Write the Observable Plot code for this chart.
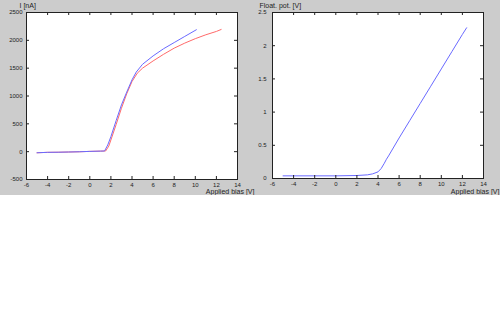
<!DOCTYPE html>
<html>
<head>
<meta charset="utf-8">
<script src="https://cdn.jsdelivr.net/npm/d3@7"></script>
<script src="https://cdn.jsdelivr.net/npm/@observablehq/plot@0.6"></script>
<style>
  body { margin: 0; background: white; }
  #fig { position: relative; width: 500px; height: 195px; background: #cccccc; }
  #fig svg { position: absolute; top: 0; overflow: visible; }
</style>
</head>
<body>
<div id="fig"></div>
<script>
// Tick values
const xTicks = [-6, -4, -2, 0, 2, 4, 6, 8, 10, 12, 14];
const leftYTicks = [-500, 0, 500, 1000, 1500, 2000, 2500];
const rightYTicks = [0, 0.5, 1, 1.5, 2, 2.5];

// Left panel: current vs applied bias (two series)
const blueBias = [-5, -4, -3, -2, -1, 0, 1, 1.4, 1.7, 2, 2.5, 3, 3.5, 4, 4.4, 5, 6, 7, 8, 9, 10.1];
const blueCurrent = [-20, -12, -10, -6, -2, 5, 10, 12, 120, 270, 560, 840, 1070, 1290, 1430, 1570, 1720, 1850, 1960, 2070, 2190];
const redBias = [-5, -4, -3, -2, -1, 0, 1, 1.5, 1.8, 2, 2.5, 3, 3.5, 4, 4.5, 5, 6, 7, 8, 9, 10, 11, 12, 12.45];
const redCurrent = [-20, -12, -10, -6, -2, 5, 10, 12, 100, 210, 490, 780, 1040, 1260, 1410, 1500, 1630, 1750, 1860, 1950, 2030, 2100, 2160, 2195];

// Right panel: floating potential vs applied bias
const floatBias = [-5, -2, 0, 2, 3, 3.5, 4, 4.3, 4.6, 4.8, 5, 6, 7, 8, 9, 10, 11, 12, 12.4];
const floatPot = [0.04, 0.04, 0.04, 0.045, 0.055, 0.07, 0.1, 0.15, 0.23, 0.29, 0.34, 0.61, 0.87, 1.13, 1.39, 1.65, 1.91, 2.17, 2.27];

const FONT = "'Liberation Sans', Arial, sans-serif";
const INK = "#222";
const fmt = d => String(d);

function panel({width, height, ml, mr, mt, mb, ydomain, yticks, ypad, series, ylabel, ylabelDx, xlabelDx, xlabelDy}) {
  const plotW = width - ml - mr;
  const plotH = height - mt - mb;
  const lines = series.map(s =>
    Plot.line(s.x.map((x, i) => ({x, y: s.y[i]})), {x: "x", y: "y", stroke: s.color, strokeWidth: 1})
  );
  const svg = Plot.plot({
    width, height,
    marginLeft: ml, marginRight: mr, marginTop: mt, marginBottom: mb,
    x: {domain: [-6, 14]},
    y: {domain: ydomain},
    style: {background: "transparent", fontSize: "6px", fontFamily: FONT, color: INK},
    marks: [
      Plot.frame({fill: "white"}),
      ...lines,
      Plot.frame({stroke: INK}),
      Plot.tickX(xTicks, {x: d => d, insetTop: plotH - 3, stroke: INK}),
      Plot.tickX(xTicks, {x: d => d, insetBottom: plotH - 3, stroke: INK}),
      Plot.tickY(yticks, {y: d => d, insetRight: plotW - 3, stroke: INK}),
      Plot.tickY(yticks, {y: d => d, insetLeft: plotW - 3, stroke: INK}),
      Plot.axisX(xTicks, {anchor: "bottom", tickSize: 0, tickPadding: 3, tickFormat: fmt, label: null, fill: INK}),
      Plot.axisY(yticks, {anchor: "left", tickSize: 0, tickPadding: ypad, tickFormat: fmt, label: null, fill: INK}),
      Plot.text([ylabel], {frameAnchor: "top-left", dx: ylabelDx, dy: -7, textAnchor: "start", lineAnchor: "middle", fontSize: 7, fill: INK}),
      Plot.text(["Applied bias [V]"], {frameAnchor: "bottom-right", dx: xlabelDx, dy: xlabelDy, textAnchor: "end", lineAnchor: "middle", fontSize: 7, fill: INK})
    ]
  });
  svg.style.overflow = "visible";
  return svg;
}

const fig = document.getElementById("fig");

const left = panel({
  width: 250, height: 195, ml: 26, mr: 13, mt: 12, mb: 16,
  ydomain: [-500, 2500], yticks: leftYTicks, ypad: 4,
  series: [
    {x: redBias, y: redCurrent, color: "#ff6a6a"},
    {x: blueBias, y: blueCurrent, color: "#6a6aff"}
  ],
  ylabel: "I [nA]", ylabelDx: -7, xlabelDx: 17, xlabelDy: 12
});
left.style.left = "0px";
fig.appendChild(left);

const right = panel({
  width: 250, height: 195, ml: 22, mr: 17, mt: 12, mb: 17,
  ydomain: [0, 2.5], yticks: rightYTicks, ypad: 6,
  series: [
    {x: floatBias, y: floatPot, color: "#6a6aff"}
  ],
  ylabel: "Float. pot. [V]", ylabelDx: -13, xlabelDx: 16, xlabelDy: 13
});
right.style.left = "250px";
fig.appendChild(right);
</script>
</body>
</html>
